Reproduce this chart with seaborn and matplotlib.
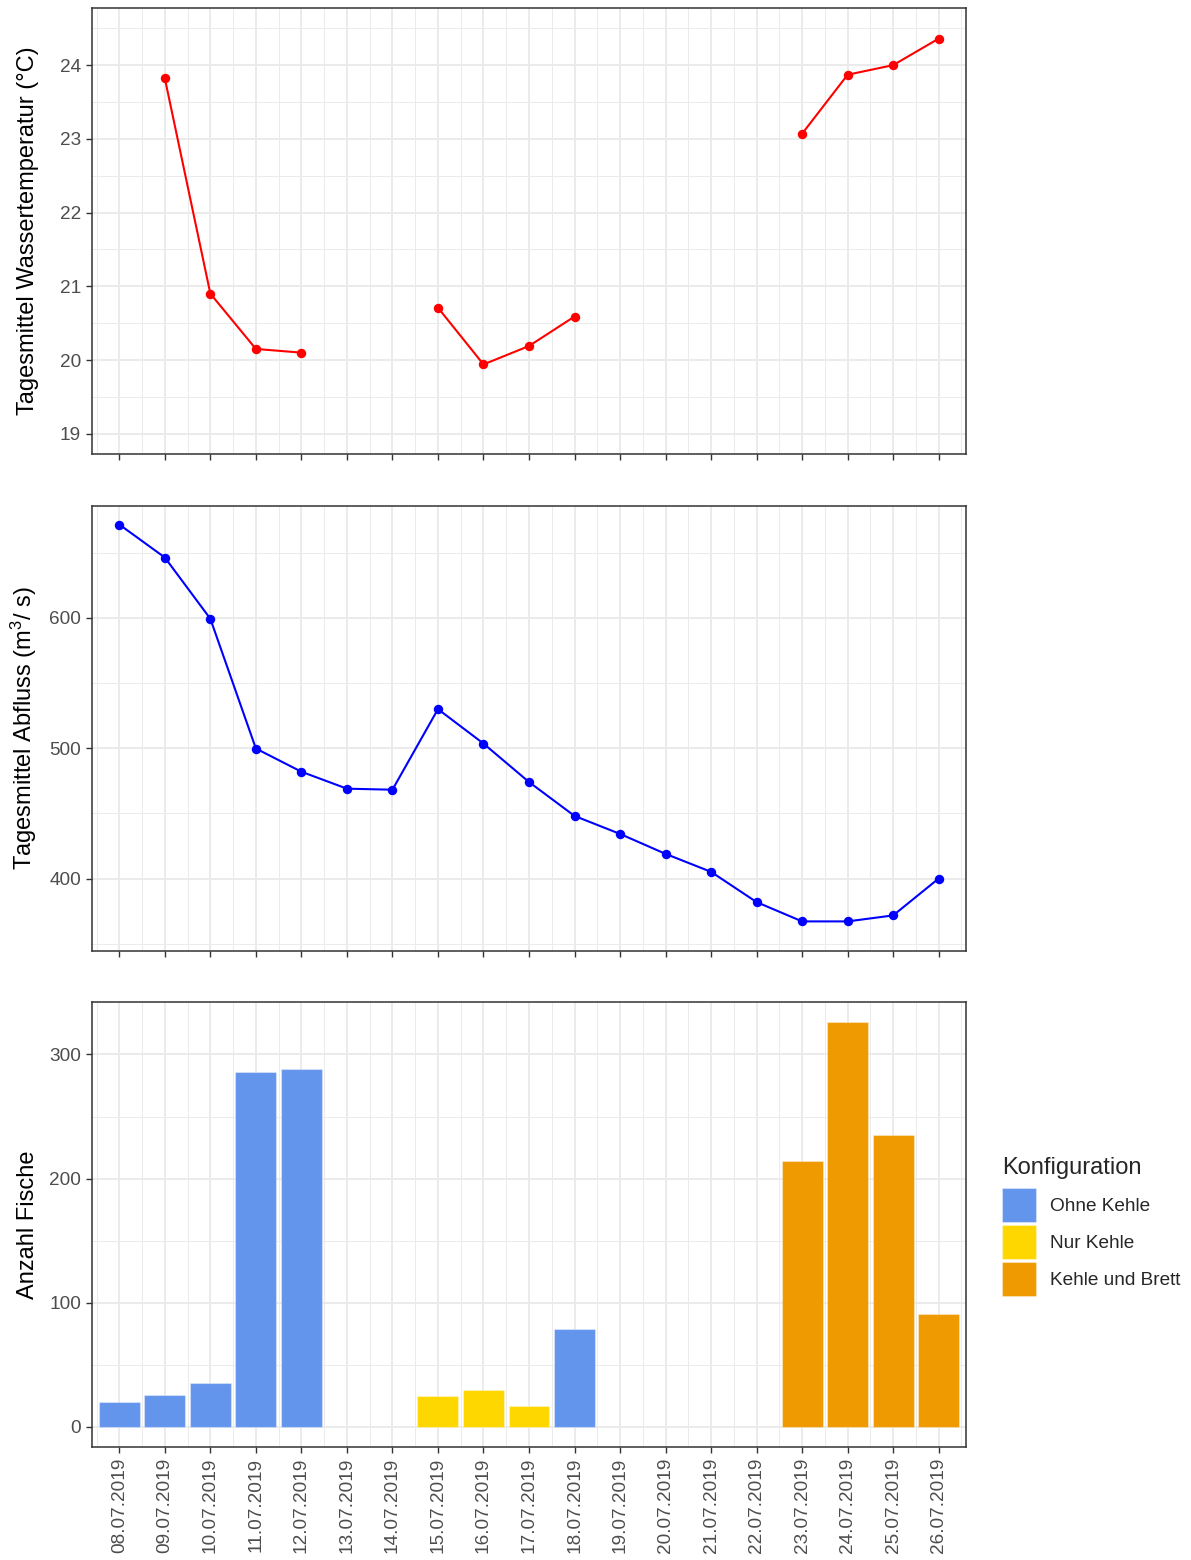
import numpy as np
import pandas as pd
import matplotlib
matplotlib.use("Agg")
import matplotlib.pyplot as plt
import seaborn as sns
from matplotlib.ticker import MultipleLocator, FixedLocator, NullFormatter

# ---- data -------------------------------------------------------------
dates = ["08.07.2019", "09.07.2019", "10.07.2019", "11.07.2019", "12.07.2019",
         "13.07.2019", "14.07.2019", "15.07.2019", "16.07.2019", "17.07.2019",
         "18.07.2019", "19.07.2019", "20.07.2019", "21.07.2019", "22.07.2019",
         "23.07.2019", "24.07.2019", "25.07.2019", "26.07.2019"]

# daily mean water temperature (°C); NaN = no measurement
temperature = [np.nan, 23.82, 20.90, 20.15, 20.10, np.nan, np.nan, 20.71, 19.94,
               20.19, 20.59, np.nan, np.nan, np.nan, np.nan, 23.07, 23.87, 24.00,
               24.36]

# daily mean discharge (m³/s)
discharge = [671.5, 646.2, 599.2, 499.7, 481.9, 468.9, 468.1, 529.9, 503.5,
             474.0, 448.0, 434.2, 418.9, 405.1, 381.9, 367.1, 367.1, 371.7, 400.0]

# fish counts per survey day and configuration
fish_dates = ["08.07.2019", "09.07.2019", "10.07.2019", "11.07.2019", "12.07.2019",
              "15.07.2019", "16.07.2019", "17.07.2019", "18.07.2019",
              "23.07.2019", "24.07.2019", "25.07.2019", "26.07.2019"]
fish_counts = [20, 26, 35, 286, 288, 25, 30, 17, 79, 214, 326, 235, 91]
fish_config = ["Ohne Kehle", "Ohne Kehle", "Ohne Kehle", "Ohne Kehle", "Ohne Kehle",
               "Nur Kehle", "Nur Kehle", "Nur Kehle", "Ohne Kehle",
               "Kehle und Brett", "Kehle und Brett", "Kehle und Brett", "Kehle und Brett"]
config_levels = ["Ohne Kehle", "Nur Kehle", "Kehle und Brett"]
config_colors = ["#6495ED", "#FFD700", "#EE9A00"]

# ---- frames -----------------------------------------------------------
pos = np.arange(len(dates))
temp_df = pd.DataFrame({"pos": pos, "temp": temperature})
# contiguous runs of measurements are drawn as separate line pieces
temp_df["seg"] = temp_df["temp"].isna().cumsum()
temp_df = temp_df.dropna()
flow_df = pd.DataFrame({"pos": pos, "flow": discharge})
fish_df = pd.DataFrame({"date": fish_dates, "count": fish_counts,
                        "Konfiguration": fish_config})

# ---- style ------------------------------------------------------------
sns.set_style("ticks")
plt.rcParams["font.family"] = ["Liberation Sans", "DejaVu Sans"]
plt.rcParams["mathtext.fontset"] = "custom"
plt.rcParams["mathtext.rm"] = "Liberation Sans"
plt.rcParams["mathtext.it"] = "Liberation Sans:italic"

TICK_FS = 13.7
TITLE_FS = 17
GRID = "#EBEBEB"
BORDER = "#333333"
TICKCOL = "#4D4D4D"

W, H = 1191, 1560
fig = plt.figure(figsize=(W / 100, H / 100), dpi=100)


def panel(top, bottom):
    left, right = 92, 966
    return fig.add_axes([left / W, 1 - bottom / H, (right - left) / W, (bottom - top) / H])


ax1 = panel(8, 454)
ax2 = panel(506, 951)
ax3 = panel(1002, 1447)

# temperature
sns.lineplot(data=temp_df, x="pos", y="temp", units="seg", estimator=None,
             color="red", marker="o", markersize=6.8, markeredgewidth=0,
             linewidth=1.5, ax=ax1)
# discharge
sns.lineplot(data=flow_df, x="pos", y="flow", color="blue", marker="o",
             markersize=6.8, markeredgewidth=0, linewidth=1.5, ax=ax2)
# fish counts
sns.barplot(data=fish_df, x="date", y="count", hue="Konfiguration", order=dates,
            hue_order=config_levels, palette=config_colors, dodge=False,
            saturation=1, width=0.9, errorbar=None, linewidth=0.8,
            edgecolor=(1, 1, 1, 0.35), ax=ax3)

ax1.set_ylim(18.725, 24.775)
ax1.yaxis.set_major_locator(MultipleLocator(1))
ax1.yaxis.set_minor_locator(MultipleLocator(0.5))
ax2.set_ylim(344.4, 685.7)
ax2.yaxis.set_major_locator(MultipleLocator(100))
ax2.yaxis.set_minor_locator(MultipleLocator(50))
ax3.set_ylim(-16.3, 342.3)
ax3.yaxis.set_major_locator(MultipleLocator(100))
ax3.yaxis.set_minor_locator(MultipleLocator(50))

ax1.set_ylabel("Tagesmittel Wassertemperatur (°C)")
ax2.set_ylabel(r"Tagesmittel Abfluss (m$^{3}$/ s)")
ax3.set_ylabel("Anzahl Fische")

for ax in (ax1, ax2, ax3):
    ax.set_xlim(-0.6, len(dates) - 0.4)
    ax.xaxis.set_major_locator(FixedLocator(pos))
    ax.xaxis.set_minor_locator(FixedLocator(np.arange(-0.5, len(dates), 1.0)))
    ax.set_xlabel("")
    ax.set_axisbelow(True)
    ax.grid(True, which="major", color=GRID, linewidth=1.4)
    ax.grid(True, which="minor", color=GRID, linewidth=0.7)
    ax.tick_params(which="major", length=4.3, width=1.0, color=BORDER,
                   labelsize=TICK_FS, labelcolor=TICKCOL, pad=3.6)
    ax.tick_params(which="minor", length=0)
    for s in ax.spines.values():
        s.set_visible(True)
        s.set_color(BORDER)
        s.set_linewidth(1.1)
    ax.yaxis.label.set_size(TITLE_FS)
    ax.yaxis.label.set_color("black")
    ax.yaxis.set_label_coords(-0.061, 0.5)

for ax in (ax1, ax2):
    ax.xaxis.set_major_formatter(NullFormatter())

ax3.set_xticks(pos)
ax3.set_xticklabels(dates, rotation=90, ha="center", va="top")

sns.move_legend(ax3, loc="center left", bbox_to_anchor=(1002 / W, 1 - 1226.5 / H),
                bbox_transform=fig.transFigure, frameon=False, title="Konfiguration",
                title_fontsize=TITLE_FS, fontsize=TICK_FS, handlelength=1.79,
                handleheight=2.37, labelspacing=0.16, handletextpad=0.74,
                borderpad=0, borderaxespad=0, alignment="left")
leg = ax3.get_legend()
leg._legend_box.sep = 6

fig.savefig("out.png", dpi=100)
